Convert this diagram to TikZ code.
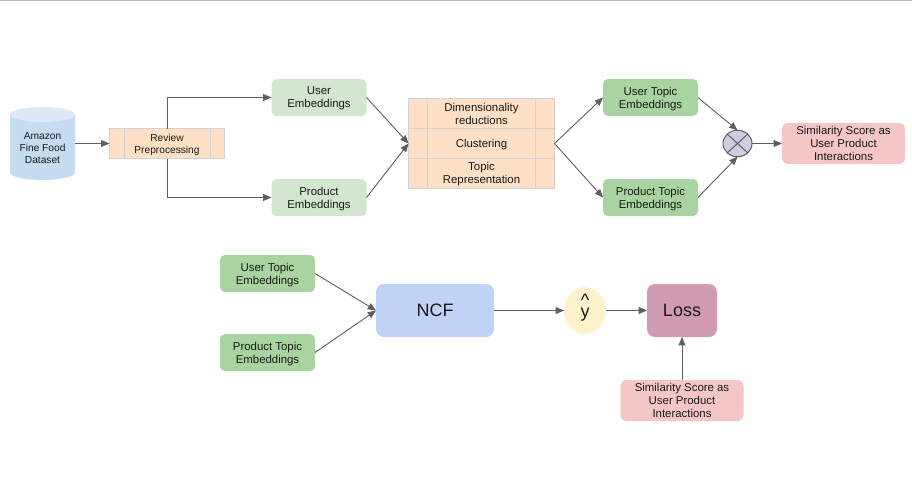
\documentclass[tikz,border=0pt]{standalone}
\usepackage{fontspec}
\setmainfont{Liberation Sans}
\usetikzlibrary{arrows,positioning,shapes.geometric}
\definecolor{edgegray}{HTML}{5F5F5F}
\definecolor{ruleline}{HTML}{B4B8B6}
\definecolor{strip}{HTML}{D3D3D3}
\definecolor{peach}{HTML}{FDE0C5}
\definecolor{palegreen}{HTML}{D2E6D0}
\definecolor{midgreen}{HTML}{A9D3A0}
\definecolor{palered}{HTML}{F5C6C6}
\definecolor{ncfblue}{HTML}{BED3F5}
\definecolor{hatyellow}{HTML}{FFF2CC}
\definecolor{lossrose}{HTML}{D19BB3}
\definecolor{crosslilac}{HTML}{D0CCE2}
\definecolor{drumblue}{HTML}{C6DCF0}
\definecolor{drumtop}{HTML}{DDE9F5}

\begin{document}
\begin{tikzpicture}[
  x=1pt,y=-1pt,
  every node/.style={inner sep=0pt,outer sep=0pt,align=center,text=black!90,text depth=0pt,
    font=\fontsize{11.4}{13}\selectfont},
  smalltext/.style={font=\fontsize{10.2}{12.3}\selectfont},
  embed/.style={rounded corners=5pt,minimum width=95pt,minimum height=37pt},
  userbox/.style={embed,fill=palegreen},
  topicbox/.style={embed,fill=midgreen},
  scorebox/.style={rounded corners=6pt,fill=palered,minimum width=123pt,minimum height=41pt},
  procbox/.style={draw=strip,line width=1pt,fill=peach,
    path picture={
      \draw[strip,line width=1pt] ([xshift=#1]path picture bounding box.north west) -- ([xshift=#1]path picture bounding box.south west);
      \draw[strip,line width=1pt] ([xshift=-#1]path picture bounding box.north east) -- ([xshift=-#1]path picture bounding box.south east);
    }},
  rowbox/.style={procbox=19pt,minimum width=146pt},
  bigbox/.style={rounded corners=8pt,minimum height=53pt,font=\fontsize{18}{20}\selectfont},
  route/.style={draw=edgegray,line width=.9pt,-{triangle 45}}
]
  \useasboundingbox (0,0) rectangle (912,503);
  \draw[ruleline,line width=1pt] (0,0.5) -- (912,0.5);

  % upper row
  \fill[drumblue] (10,114.5) -- (10,172.5) arc[start angle=180,end angle=0,x radius=32.5,y radius=7.5]
    -- (75,114.5) -- cycle;
  \fill[drumtop] (42.5,114.5) ellipse[x radius=32.5,y radius=7.5];
  \node[smalltext,minimum width=65pt,minimum height=73pt,text height=40.5pt] (dataset) at (42.5,143.5) {Amazon\\Fine Food\\Dataset};
  \node[smalltext,procbox=14.5pt,minimum width=115pt,minimum height=30pt,right=34.5pt of dataset] (preproc) {Review\\Preprocessing};
  \node[userbox,right=47pt of preproc,yshift=46pt] (user) {User\\Embeddings};
  \node[userbox,right=47pt of preproc,yshift=-54pt] (product) {Product\\Embeddings};

  \node[rowbox,minimum height=29.5pt,right=184pt of preproc] (clustering) {Clustering};
  \node[rowbox,minimum height=30.5pt,above=0pt of clustering] (dimred) {Dimensionality\\reductions};
  \node[rowbox,minimum height=30pt,below=0pt of clustering] (topicrep) {Topic\\Representation};

  \node[topicbox,right=48.5pt of clustering,yshift=46pt] (usertopic) {User Topic\\Embeddings};
  \node[topicbox,right=48.5pt of clustering,yshift=-54pt] (producttopic) {Product Topic\\Embeddings};

  \node[ellipse,draw=edgegray,line width=1pt,fill=crosslilac,minimum width=29pt,minimum height=26.5pt,
    right=183pt of clustering.east,anchor=center] (cross) {};
  \draw[edgegray,line width=1pt] (cross.north west) -- (cross.south east);
  \draw[edgegray,line width=1pt] (cross.north east) -- (cross.south west);
  \node[scorebox,right=30pt of cross] (score) {Similarity Score as\\User Product\\Interactions};

  \draw[route] (dataset.east) -- (preproc.west);
  \draw[route] (preproc.north) |- (user.west);
  \draw[route] (preproc.south) |- (product.west);
  \draw[route] (user.east) -- (clustering.west);
  \draw[route] (product.east) -- (clustering.west);
  \draw[route] (clustering.east) -- (usertopic.west);
  \draw[route] (clustering.east) -- (producttopic.west);
  \draw[route] (usertopic.east) -- (cross.north);
  \draw[route] (producttopic.east) -- (cross.south);
  \draw[route] (cross.east) -- (score.west);

  % lower row
  \node[bigbox,fill=ncfblue,minimum width=118pt] (ncf) at (435,310.5) {NCF};
  \node[topicbox,left=61pt of ncf,yshift=37pt] (usertopicb) {User Topic\\Embeddings};
  \node[topicbox,left=61pt of ncf,yshift=-42pt] (producttopicb) {Product Topic\\Embeddings};
  \node[ellipse,fill=hatyellow,minimum width=42pt,minimum height=47pt,right=70pt of ncf,
    font=\fontsize{18}{9.5}\selectfont,text depth=9.5pt] (yhat) {\textasciicircum\\y};
  \node[bigbox,fill=lossrose,minimum width=70pt,right=41pt of yhat] (loss) {Loss};
  \node[scorebox,below=43pt of loss] (scoreb) {Similarity Score as\\User Product\\Interactions};

  \draw[route] (usertopicb.east) -- (ncf.west);
  \draw[route] (producttopicb.east) -- (ncf.west);
  \draw[route] (ncf.east) -- (yhat.west);
  \draw[route] (yhat.east) -- (loss.west);
  \draw[route] (scoreb.north) -- (loss.south);
\end{tikzpicture}
\end{document}
